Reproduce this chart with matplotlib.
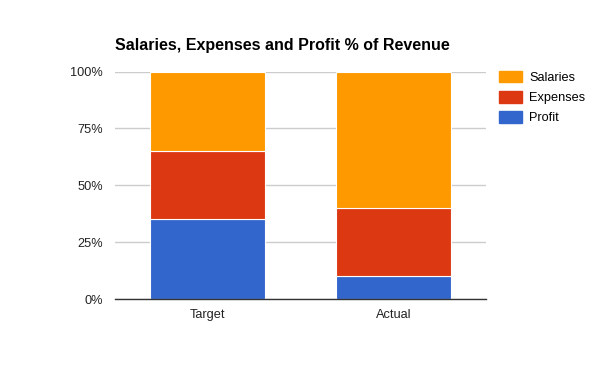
import matplotlib
matplotlib.use('Agg')

import matplotlib.pyplot as plt
import numpy as np
from matplotlib.patches import Patch

categories = ['Target', 'Actual']
profit = [35, 10]
expenses = [30, 30]
salaries = [35, 60]
y_ticks = [0, 25, 50, 75, 100]
y_tick_labels = ['0%', '25%', '50%', '75%', '100%']

colors = {'Profit': '#3366cc', 'Expenses': '#dc3912', 'Salaries': '#ff9900'}

plt.rcParams['font.family'] = ['Liberation Sans', 'DejaVu Sans']

fig = plt.figure(figsize=(6, 3.71), dpi=100)
ax = fig.add_axes([0.192, 0.194, 0.618, 0.613])

x = np.arange(len(categories))
w = 0.62
bottom = np.zeros(len(categories))
for name, vals in [('Profit', profit), ('Expenses', expenses), ('Salaries', salaries)]:
    ax.bar(x, vals, w, bottom=bottom, color=colors[name], edgecolor='white',
           linewidth=0.8, zorder=3)
    bottom += np.array(vals)

ax.set_xlim(-0.5, 1.5)
ax.set_ylim(0, 100)
ax.set_yticks(y_ticks)
ax.set_yticklabels(y_tick_labels)
ax.set_xticks(x)
ax.set_xticklabels(categories)
ax.grid(axis='y', color='#cccccc', linewidth=1, zorder=0)
for s in ['top', 'right', 'left']:
    ax.spines[s].set_visible(False)
ax.spines['bottom'].set_color('#333333')
ax.spines['bottom'].set_linewidth(1)
ax.spines['bottom'].set_zorder(4)
ax.tick_params(length=0, labelsize=9.2, colors='#222222')
ax.tick_params(axis='y', pad=9)
ax.tick_params(axis='x', pad=7)

fig.text(0.192, 0.865, 'Salaries, Expenses and Profit % of Revenue',
         fontsize=11.5, fontweight='bold', color='black', va='baseline')

handles = [Patch(color=colors[n]) for n in ['Salaries', 'Expenses', 'Profit']]
ax.legend(handles, ['Salaries', 'Expenses', 'Profit'], loc='upper left',
          bbox_to_anchor=(1.02, 1.025), frameon=False, fontsize=9.2,
          handlelength=1.85, handleheight=1.0, handletextpad=0.55,
          labelspacing=0.55, borderaxespad=0)

fig.savefig('out.png', dpi=100)
